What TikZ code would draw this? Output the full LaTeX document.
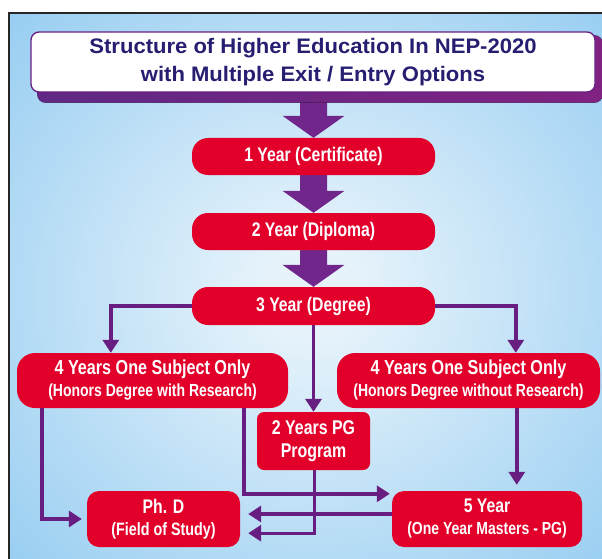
\documentclass[tikz,border=0pt]{standalone}
\usepackage{fontspec}
\setmainfont{Liberation Sans}
\newfontfamily\condfont{Liberation Sans}[FakeStretch=0.8]
\newfontfamily\widefont{Liberation Sans}[FakeStretch=1.05]
\usetikzlibrary{arrows.meta,calc}

\definecolor{bgout}{RGB}{140,200,240}
\definecolor{bgin}{RGB}{230,243,251}
\definecolor{boxred}{RGB}{226,0,42}
\definecolor{linepurple}{RGB}{104,30,128}
\definecolor{arrowpurple}{RGB}{112,38,138}
\definecolor{titleblue}{RGB}{38,30,112}
\definecolor{shadowdark}{RGB}{96,40,132}
\definecolor{shadowlight}{RGB}{128,34,130}

\pgfdeclareradialshading{bgglow}{\pgfpoint{0bp}{0bp}}{%
  color(0bp)=(bgin); color(4bp)=(bgin); color(40bp)=(bgout); color(50bp)=(bgout)}

\pgfdeclarelayer{canvas}
\pgfdeclarelayer{under}
\pgfsetlayers{canvas,under,main}

% thick downward block arrow from the bottom of one node to the top of the next
\newcommand\blockarrow[2]{%
  \fill[arrowpurple] let \p1=(#1.south), \p2=(#2.north) in
    (\x2-13.5pt,\y1) -- (\x2+13.5pt,\y1) -- (\x2+13.5pt,\y2+22pt) -- (\x2+31pt,\y2+22pt)
    -- (\x2,\y2) -- (\x2-31pt,\y2+22pt) -- (\x2-13.5pt,\y2+22pt) -- cycle;}

\begin{document}
\begin{tikzpicture}[x=1pt,y=-1pt,
  redbox/.style={fill=boxred, text=white, inner sep=0pt, align=center,
    font=\condfont\bfseries\fontsize{19.7}{22}\selectfont},
  pill/.style={redbox, rounded corners=16pt, minimum width=243pt, minimum height=37pt},
  wide/.style={redbox, rounded corners=18pt, minimum height=55pt},
  card/.style={redbox, rounded corners=12pt, minimum height=56pt},
  titlebox/.style={fill=white, draw=linepurple, line width=1.3pt, rounded corners=8pt,
    minimum width=564pt, minimum height=60pt, inner sep=0pt, align=center, text=titleblue,
    font=\widefont\bfseries\fontsize{21}{28}\selectfont},
  conn/.style={draw=linepurple, line width=3.4pt, -{Triangle[length=13pt,width=16pt]}}
]
\useasboundingbox (0,0) rectangle (602,559);

% boxes
\node[titlebox] (title) at (313,62) {Structure of Higher Education In NEP-2020\\with Multiple Exit / Entry Options};
\node[pill] (y1) at (313.5,156.5) {1 Year (Certificate)};
\node[pill] (y2) at (313.5,231.5) {2 Year (Diploma)};
\node[pill, minimum height=38pt] (y3) at (313.5,306) {3 Year (Degree)};
\node[wide, minimum width=271pt] (L4) at (152.5,380.5)
  {{\fontsize{20.2}{22}\selectfont 4 Years One Subject Only}\\{\fontsize{17.5}{22}\selectfont (Honors Degree with Research)}};
\node[wide, minimum width=263pt] (R4) at (468.5,380.5)
  {{\fontsize{20.2}{22}\selectfont 4 Years One Subject Only}\\{\fontsize{17.5}{22}\selectfont (Honors Degree without Research)}};
\node[redbox, rounded corners=7pt, minimum width=113pt, minimum height=58pt,
  font=\condfont\bfseries\fontsize{19.9}{23}\selectfont] (PG) at (313.5,441) {2 Years PG\\Program};
\node[card, minimum width=153pt] (PhD) at (163.5,519)
  {Ph. D\\{\fontsize{17.9}{20}\selectfont (Field of Study)}};
\node[card, minimum width=190pt] (FY) at (487,519)
  {5 Year\\{\fontsize{17.5}{22}\selectfont (One Year Masters - PG)}};

% light blue panel with its frame
\begin{pgfonlayer}{canvas}
  \fill[white] (0,0) rectangle (602,559);
  \begin{scope}
    \clip (0,0) rectangle (602,559);
    \shade[shading=bgglow] (9,13) rectangle (612,569);
    \draw[line width=2pt, black!85] (9,569) -- (9,13) -- (612,13);
  \end{scope}
\end{pgfonlayer}

% title shadow and block arrows sit under the boxes
\begin{pgfonlayer}{under}
  \blockarrow{title}{y1}
  \blockarrow{y1}{y2}
  \blockarrow{y2}{y3}
  \fill[left color=shadowdark, right color=shadowlight, rounded corners=8pt]
    ($(title.north west)+(7,4)$) rectangle ($(title.south east)+(7,10)$);
\end{pgfonlayer}

% connectors
\coordinate (ldrop) at ($(L4.south west)+(25,0)$);
\coordinate (mdrop) at ($(L4.south west)+(227,0)$);
\coordinate (rdrop) at ($(R4.south west)+(180,0)$);
\coordinate (pgdrop) at ($(PG.south)+(1,0)$);

\draw[conn] (y3.west) -| ($(L4.north west)+(94,0)$);
\draw[conn] (y3.east) -| ($(R4.north west)+(179,0)$);
\draw[conn] (y3.south) -- (PG.north);
\draw[conn, shorten >=5pt] (ldrop) |- (PhD.west);
\draw[conn, shorten >=2pt] (mdrop) |- ($(FY.north west)+(0,3)$);
\draw[conn, shorten >=6pt] (rdrop) -- (rdrop |- FY.north);
\draw[conn, shorten >=8pt] (pgdrop) |- ($(PhD.south east)+(0,-14)$);
\draw[conn, shorten >=8pt] ($(FY.west)+(0,-5)$) -- ($(PhD.east)+(0,-5)$);
\end{tikzpicture}
\end{document}
